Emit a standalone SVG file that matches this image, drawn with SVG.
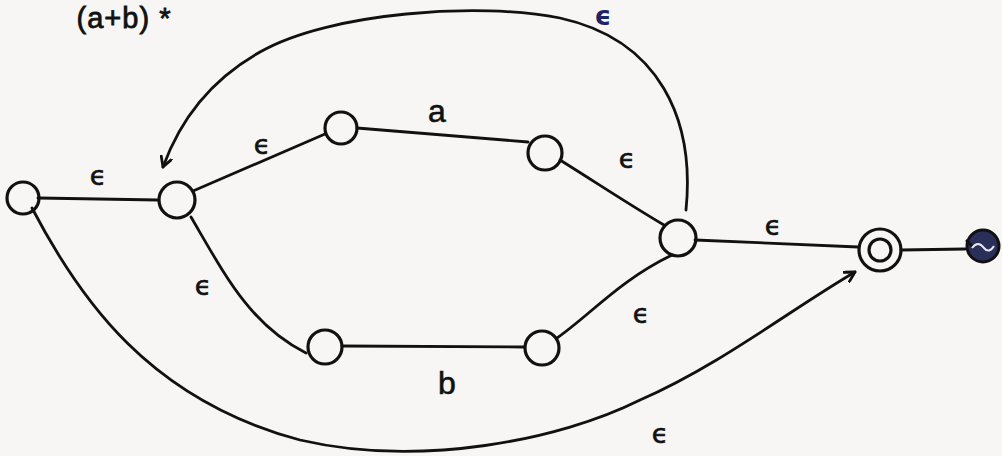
<svg xmlns="http://www.w3.org/2000/svg" width="1002" height="456" viewBox="0 0 1002 456">
<style>
.node{fill:none;stroke:#111;stroke-width:3.2}
.edge{fill:none;stroke:#111;stroke-width:2.8;stroke-linecap:round}
.lbl{font-family:"DejaVu Sans","Liberation Sans",sans-serif;font-size:27px;fill:#111;text-anchor:middle;stroke:#111;stroke-width:0.6}
.sym{font-family:"Liberation Sans",sans-serif;font-size:32px;fill:#111;text-anchor:middle;stroke:#111;stroke-width:0.6}
</style>
<defs>
<marker id="arr" viewBox="0 0 12 12" refX="10" refY="6" markerWidth="13" markerHeight="13" markerUnits="userSpaceOnUse" orient="auto">
<path d="M1,1 L10,6 L1,11" fill="none" stroke="#111" stroke-width="2.6" stroke-linecap="round" stroke-linejoin="round"/>
</marker>
</defs>
<rect width="1002" height="456" fill="#f8f6f4"/>
<text x="124" y="28" font-family="Liberation Sans, sans-serif" font-size="29" fill="#111" stroke="#111" stroke-width="0.8" text-anchor="middle" letter-spacing="1">(a+b) *</text>
<g id="connectors">
<path class="edge" d="M38,198 L158,200"/>
<path class="edge" d="M193,191 L325,134"/>
<path class="edge" d="M357,128 L528,142"/>
<path class="edge" d="M560,160 C600,185 630,205 664,225"/>
<path class="edge" d="M191,217 C225,275 250,325 306,353"/>
<path class="edge" d="M342,346 L524,347"/>
<path class="edge" d="M557,338 C590,315 620,280 672,255"/>
<path class="edge" d="M695,240 L858,247"/>
<path class="edge" d="M901,250 L965,249"/>
<path class="edge" marker-end="url(#arr)" d="M686,210 C695,120 660,40 560,18 C480,2 330,12 260,52 C210,80 180,120 163,167"/>
<path class="edge" marker-end="url(#arr)" d="M32,208 C80,300 150,400 300,440 C420,468 560,440 640,400 C720,365 790,310 855,272"/>
<text class="lbl" x="98" y="185">ϵ</text>
<text class="lbl" x="262" y="154">ϵ</text>
<text class="sym" x="437" y="122">a</text>
<text class="lbl" x="627" y="168">ϵ</text>
<text class="lbl" x="203" y="295">ϵ</text>
<text class="sym" x="447" y="394">b</text>
<text class="lbl" x="641" y="323">ϵ</text>
<text class="lbl" x="773" y="235">ϵ</text>
<text class="lbl" x="660" y="443">ϵ</text>
<text x="603" y="25" font-family="DejaVu Sans, sans-serif" font-size="26" font-weight="bold" fill="#1a2466" text-anchor="middle">ϵ</text>
</g>
<g id="q0"><circle class="node" cx="23" cy="198" r="16"/></g>
<g id="q1"><circle class="node" cx="177" cy="200" r="18"/></g>
<g id="q2"><circle class="node" cx="341" cy="128" r="16"/></g>
<g id="q3"><circle class="node" cx="545" cy="153" r="17"/></g>
<g id="q4"><circle class="node" cx="325" cy="347" r="17"/></g>
<g id="q5"><circle class="node" cx="542" cy="348" r="17"/></g>
<g id="q6"><circle class="node" cx="678" cy="238" r="18"/></g>
<g id="q7"><circle class="node" cx="880" cy="250" r="21"/><circle class="node" cx="880" cy="250" r="11"/></g>
<g id="q8">
<circle cx="983" cy="246" r="16" fill="#2a2f5a" stroke="#111" stroke-width="3"/>
<path d="M972,248 q6,-8 12,0 q5,6 10,-2" fill="none" stroke="#e8e8f0" stroke-width="2"/>
<path d="M966,240 l6,6" fill="none" stroke="#111" stroke-width="2.5"/>
</g>
</svg>
